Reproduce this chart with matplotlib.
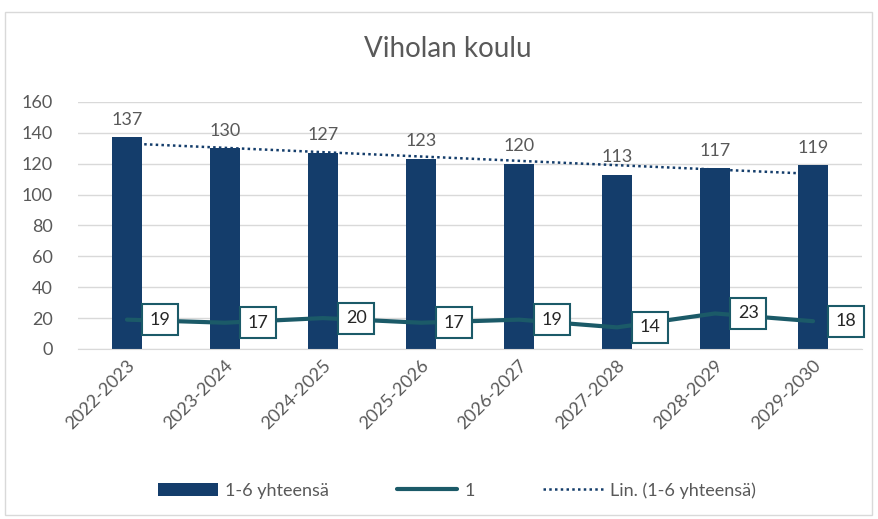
import numpy as np
import matplotlib.pyplot as plt
from matplotlib.patches import Rectangle

years = ['2022-2023', '2023-2024', '2024-2025', '2025-2026',
         '2026-2027', '2027-2028', '2028-2029', '2029-2030']
total = [137, 130, 127, 123, 120, 113, 117, 119]
grade1 = [19, 17, 20, 17, 19, 14, 23, 18]

bar_color = '#143d6b'
line_color = '#1b5a68'
text_color = '#595959'

plt.rcParams['font.family'] = ['Lato', 'DejaVu Sans']

fig = plt.figure(figsize=(8.79, 5.19), dpi=100)
fig.patches.append(Rectangle((0.006, 0.008), 0.986, 0.968, transform=fig.transFigure,
                             fill=False, edgecolor='#d9d9d9', linewidth=1))
ax = fig.add_axes([0.0887, 0.3276, 0.892, 0.476])

x = np.arange(len(years))
ax.bar(x, total, width=0.31, color=bar_color, label='1-6 yhteensä', zorder=2)
for xi, v in zip(x, total):
    ax.annotate(str(v), (xi, v), xytext=(0, 7), textcoords='offset points',
                ha='center', va='bottom', fontsize=13, color=text_color)

# trend line
k, b = np.polyfit(x, total, 1)
ax.plot(x, k * x + b, linestyle=(0, (1, 1.3)), color=bar_color, linewidth=1.8,
        label='Lin. (1-6 yhteensä)', zorder=3)

ax.plot(x, grade1, color=line_color, linewidth=3, solid_capstyle='round',
        label='1', zorder=4)
for xi, v in zip(x, grade1):
    ax.annotate(str(v), (xi, v), xytext=(24, 0), textcoords='offset points',
                ha='center', va='center', fontsize=13, color='#262626', zorder=5,
                bbox=dict(boxstyle='square,pad=0.42', fc='white', ec=line_color, lw=1.5))

ax.set_xlim(-0.5, len(years) - 0.5)
ax.set_ylim(0, 160)
ax.set_yticks(range(0, 161, 20))
ax.grid(axis='y', color='#d9d9d9', linewidth=1, zorder=0)
ax.set_axisbelow(True)
for s in ['top', 'right', 'left']:
    ax.spines[s].set_visible(False)
ax.spines['bottom'].set_color('#d9d9d9')
ax.tick_params(axis='both', length=0, labelsize=13, labelcolor=text_color)
ax.tick_params(axis='y', pad=18)
ax.tick_params(axis='x', pad=6)
ax.set_xticks(x)
ax.set_xticklabels(years, rotation=45, ha='right', rotation_mode='anchor')

fig.text(0.51, 0.905, 'Viholan koulu', ha='center', va='center', fontsize=20,
         color=text_color)

handles, labels = ax.get_legend_handles_labels()
order = [labels.index('1-6 yhteensä'), labels.index('1'), labels.index('Lin. (1-6 yhteensä)')]
fig.legend([handles[i] for i in order], [labels[i] for i in order],
           loc='center', bbox_to_anchor=(0.52, 0.055), ncol=3, frameon=False,
           fontsize=13, labelcolor=text_color, handlelength=3.3, columnspacing=3.8,
           handletextpad=0.4)

fig.savefig('out.png', dpi=100)
